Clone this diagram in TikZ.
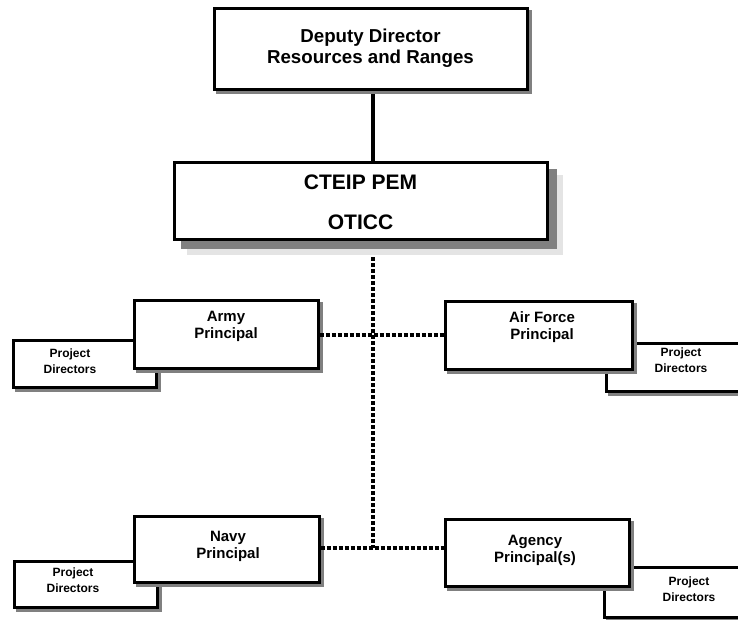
\documentclass[tikz,border=0pt]{standalone}
\usepackage{fontspec}
\setmainfont{Liberation Sans}
\usetikzlibrary{shadows,fit}
\definecolor{shdark}{HTML}{808080}
\definecolor{shlight}{HTML}{E4E4E4}
\tikzset{
  box/.style={draw=black, line width=3pt, fill=white, rectangle, inner sep=0pt,
    general shadow={fill=shdark, draw=shdark, shadow xshift=3.5pt, shadow yshift=-3.5pt}},
  bigbox/.style={draw=black, line width=3pt, fill=white, rectangle, inner sep=0pt,
    general shadow={fill=shlight, draw=shlight, shadow xshift=14pt, shadow yshift=-14pt},
    general shadow={fill=shdark, draw=shdark, shadow xshift=8pt, shadow yshift=-8pt}},
  toptext/.style={font=\bfseries\fontsize{18.7}{20.5}\selectfont, align=center, inner sep=0pt},
  pemtext/.style={font=\bfseries\fontsize{21}{40}\selectfont, align=center, inner sep=0pt},
  prtext/.style={font=\bfseries\fontsize{15}{17}\selectfont, align=center, inner sep=0pt},
  pdtext/.style={font=\bfseries\fontsize{12}{16}\selectfont, align=center, inner sep=0pt},
  solidconn/.style={line width=4pt, black},
  dotconn/.style={line width=4pt, black, dash pattern=on 4pt off 2pt},
}
\begin{document}
\begin{tikzpicture}[x=1pt, y=-1pt]
\useasboundingbox (0,0) rectangle (738,619);
\clip (0,0) rectangle (738,619);
\coordinate (j1) at (373,335);
\coordinate (j2) at (373,548);
\coordinate (topc) at (214,8);  \coordinate (topd) at (527,89);
\coordinate (pemc) at (174,162); \coordinate (pemd) at (547,239);
% connectors (drawn beneath the boxes)
\path (topc) (topd) node[fit={(topc) (topd)}, inner sep=0pt] (topbox0) {};
\path (pemc) (pemd) node[fit={(pemc) (pemd)}, inner sep=0pt] (pembox0) {};
\draw[solidconn] (topbox0.south -| j1) -- (pembox0.north -| j1);
\draw[dotconn] (pembox0.south -| j1) -- (j2);
% project director boxes
\node[box, fit={(13,340) (156,387)}] (armypd) {};
\node[box, fit={(606,343) (750,391)}] (afpd) {};
\node[box, fit={(14,561) (157,607)}] (navypd) {};
\node[box, fit={(604,567) (750,617)}] (agpd) {};
% principal boxes
\node[box, fit={(134,300) (318,368)}] (army) {};
\node[box, fit={(445,301) (632,369)}] (af) {};
\node[box, fit={(134,516) (319,582)}] (navy) {};
\node[box, fit={(445,519) (629,586)}] (agency) {};
\draw[dotconn] (army.east |- j1) -- (af.west |- j1);
\draw[dotconn] (navy.east |- j2) -- (agency.west |- j2);
% top boxes
\node[box, fit={(topc) (topd)}] (top) {};
\node[bigbox, fit={(pemc) (pemd)}] (pem) {};
% texts
\node[toptext] (toplbl) at (370.5,48) {Deputy Director\\Resources and Ranges};
\node[pemtext] (pemlbl) at (360.5,202) {CTEIP PEM\\OTICC};
\node[prtext] (armylbl) at (226,326.5) {Army\\Principal};
\node[prtext] (aflbl) at (542,327.5) {Air Force\\Principal};
\node[prtext] (navylbl) at (228,546.5) {Navy\\Principal};
\node[prtext] (aglbl) at (535,550) {Agency\\Principal(s)};
\node[pdtext] (armypdlbl) at (70,361.5) {Project\\Directors};
\node[pdtext] (afpdlbl) at (681,360.5) {Project\\Directors};
\node[pdtext] (navypdlbl) at (73,580.5) {Project\\Directors};
\node[pdtext] (agpdlbl) at (689,589.5) {Project\\Directors};
\end{tikzpicture}
\end{document}
